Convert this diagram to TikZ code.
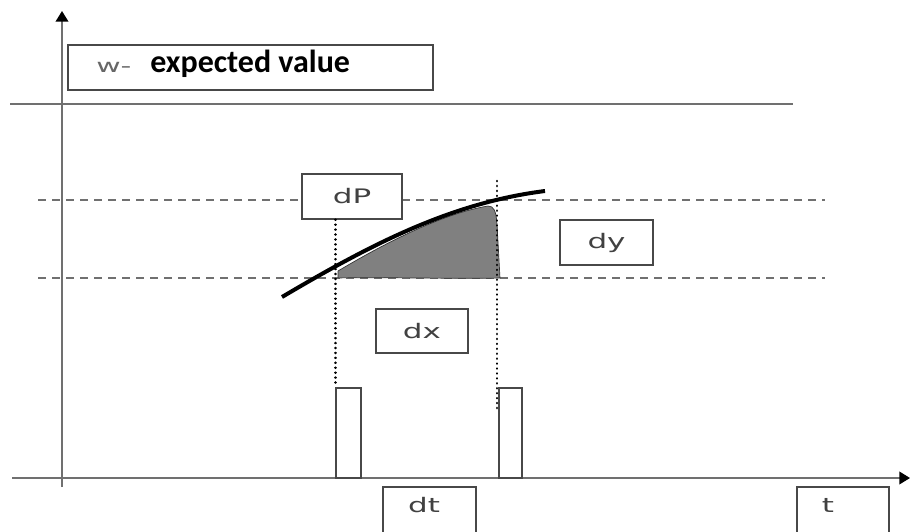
\documentclass[tikz,border=0pt]{standalone}
\usepackage{fontspec}
\setmainfont{DejaVu Sans}
\newfontfamily\calfont{Carlito}
\usetikzlibrary{arrows.meta}

\definecolor{linegray}{RGB}{112,112,112}
\definecolor{boxgray}{RGB}{72,72,72}
\definecolor{txtgray}{RGB}{65,65,65}
\definecolor{areagray}{RGB}{128,128,128}

% labels in the boxes are drawn wide
\newcommand{\widetxt}[1]{\scalebox{1.55}[1]{#1}}

\tikzset{
  axisline/.style={draw=linegray, line width=1.2pt},
  levelline/.style={draw=linegray, line width=1.1pt, dash pattern=on 6pt off 4.5pt},
  labelbox/.style={draw=boxgray, fill=white, line width=1pt, inner sep=0pt},
  labeltxt/.style={inner sep=0pt, text=txtgray, font=\fontsize{15}{17}\selectfont},
  dotline/.style={draw=black, line width=1.9pt, line cap=round, dash pattern=on 0.1pt off 3.6pt},
}

\begin{document}
\begin{tikzpicture}[x=0.75pt,y=0.75pt,yscale=-1,xscale=1]
\useasboundingbox (0,0) rectangle (912,531);
\clip (0,0) rectangle (912,531);

%Straight Lines: axes
\coordinate (xstart) at (12,478);
\coordinate (xend) at (910,478);
\coordinate (ystart) at (62,487);
\coordinate (yend) at (62,11);
\draw [axisline, -{Triangle[length=8pt,width=9.5pt,color=black]}] (xstart) -- (xend);
\draw [axisline, -{Triangle[length=8pt,width=9.5pt,color=black]}] (ystart) -- (yend);

%Straight Lines: expected value level
\coordinate (wstart) at (10,104);
\coordinate (wend) at (793,104);
\draw [axisline] (wstart) -- (wend);

%Straight Lines: dashed levels
\coordinate (upstart) at (38,200);
\coordinate (upend) at (825,200);
\coordinate (lowstart) at (38,278);
\coordinate (lowend) at (825,278);
\draw [levelline] (upstart) -- (upend);
\draw [levelline] (lowstart) -- (lowend);

%Shape: shaded increment
\fill [areagray, draw=black!80, line width=0.5pt] (338,271) .. controls (380,246) and (440,214) .. (488,206) .. controls (494,206) and (496,211) .. (497,224) -- (500,278) .. controls (460,279) and (380,277) .. (338,278) -- cycle;

%Curve Lines
\coordinate (cstart) at (282,297);
\coordinate (cend) at (545,191);
\draw [black, line width=3pt] (cstart) .. controls (370,245) and (450,203) .. (cend);

%Shape: Rectangles on the time axis
\node [labelbox, minimum width=18.75pt, minimum height=67.5pt] (rleft) at (348.5,433) {};
\node [labelbox, minimum width=17.25pt, minimum height=67.5pt] (rright) at (510.5,433) {};

%Shape: Boxes
\node [labelbox, minimum width=273.75pt, minimum height=33.75pt] (wbox) at (250.5,67.5) {};
\node [labelbox, minimum width=75pt, minimum height=33.75pt, labeltxt] (dpbox) at (352,196.5) {\widetxt{dP}};
\node [labelbox, minimum width=69.75pt, minimum height=33.75pt, labeltxt] (dybox) at (606.5,242.5) {\widetxt{dy}};
\node [labelbox, minimum width=69pt, minimum height=33pt, labeltxt] (dxbox) at (422,331) {\widetxt{dx}};
\node [labelbox, minimum width=69.75pt, minimum height=45pt] (dtbox) at (429.5,517) {};
\node [labelbox, minimum width=69pt, minimum height=45pt] (tbox) at (843,517) {};

%Dotted Lines
\coordinate (dtop) at (497,181);
\coordinate (dbottom) at (497,410);
\draw [dotline] (rleft.north west |- dpbox.south) -- (rleft.north west);
\draw [dotline] (dtop) -- (dbottom);

% Text Node
\node [anchor=base west, inner sep=0pt, text=txtgray!80, font=\fontsize{14}{16}\selectfont] (wtag) at (96,73) {\scalebox{1.6}[1]{w-}};
% Text Node
\node [anchor=base west, inner sep=0pt, font=\calfont\bfseries\fontsize{24}{28}\selectfont] (wtext) at (150,73) {expected value};
% Text Node
\node [labeltxt, anchor=base] (dtlabel) at (424,512) {\widetxt{dt}};
% Text Node
\node [labeltxt, anchor=base] (tlabel) at (828,512) {\widetxt{t}};

\end{tikzpicture}
\end{document}
